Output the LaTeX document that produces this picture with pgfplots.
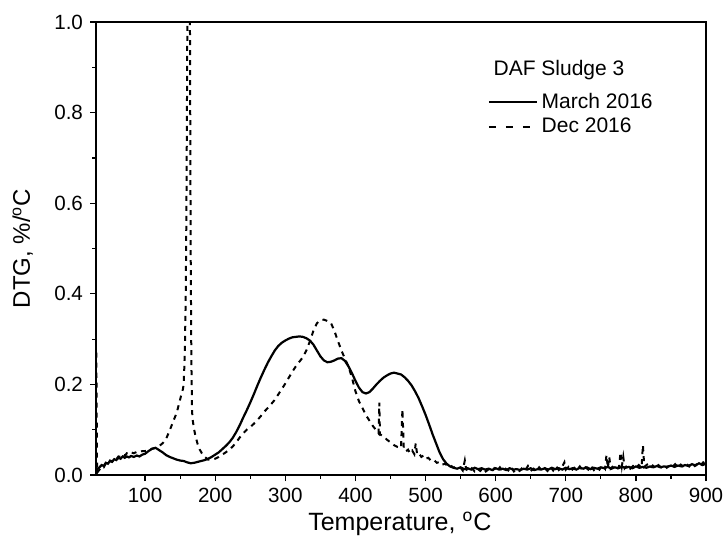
\documentclass[border=0pt]{standalone}
\usepackage{fontspec}
\setmainfont{Liberation Sans}
\usepackage{pgfplots}
\pgfplotsset{compat=1.18}

\begin{document}
\begin{tikzpicture}
\begin{axis}[
  scale only axis,
  width=305pt, height=226.5pt,
  xmin=30, xmax=900,
  ymin=0, ymax=1,
  xtick={100,200,...,900},
  ytick={0,0.2,...,1.0},
  minor x tick num=1,
  minor y tick num=1,
  tick align=outside,
  xtick pos=left, ytick pos=left,
  major tick length=3pt,
  minor tick length=2pt,
  tick style={black, line width=0.6pt},
  axis line style={line width=0.8pt},
  font=\fontsize{10.3}{12}\selectfont,
  /pgf/number format/assume math mode=true,
  y tick label style={/pgf/number format/.cd, fixed, fixed zerofill, precision=1},
  xlabel={Temperature, \textsuperscript{o}C},
  ylabel={DTG, \%/\textsuperscript{o}C},
  every axis x label/.style={at={(axis description cs:0.498,-0.108)}, anchor=center, font=\fontsize{12.5}{14}\selectfont},
  every axis y label/.style={at={(axis description cs:-0.12,0.5)}, anchor=center, rotate=90, font=\fontsize{12}{14}\selectfont},
  legend style={at={(axis description cs:0.632,0.862)}, anchor=north west, draw=none, fill=none,
    font=\fontsize{10.5}{12}\selectfont, row sep=-0.5pt},
  legend cell align=left,
  legend image code/.code={\draw[#1] (0pt,0pt) -- (24pt,0pt);},
  clip=true,
]
% March 2016
\addplot[black, line width=1.1pt, forget plot] coordinates {
(30,0.006) (32,0.013) (35,0.017) (38,0.022) (41,0.020) (44,0.027) (47,0.025) (50,0.031)
(53,0.029) (56,0.035) (59,0.033) (62,0.038) (65,0.036) (68,0.041) (71,0.038) (74,0.041)
(77,0.039) (80,0.042) (84,0.040) (88,0.043) (92,0.041) (96,0.045) (100,0.047) (105,0.053)
(110,0.058) (115,0.060) (120,0.055) (125,0.050) (130,0.044) (135,0.040) (140,0.037) (145,0.034)
(150,0.032) (155,0.031) (160,0.028) (165,0.026) (170,0.027) (175,0.029) (180,0.031) (185,0.033)
(190,0.036) (195,0.040) (200,0.045) (205,0.050) (210,0.057) (215,0.064) (220,0.072) (225,0.082)
(230,0.095) (235,0.110) (240,0.127) (245,0.143) (250,0.160) (255,0.178) (260,0.197) (265,0.215)
(270,0.232) (275,0.248) (280,0.262) (285,0.275) (290,0.285) (295,0.292) (300,0.297) (305,0.301)
(310,0.304) (315,0.305) (320,0.306) (325,0.305) (330,0.302) (335,0.297) (340,0.288) (345,0.275)
(350,0.262) (355,0.253) (360,0.249) (365,0.250) (370,0.253) (375,0.257) (380,0.258) (385,0.252)
(390,0.240) (395,0.225) (400,0.208) (405,0.193) (410,0.183) (415,0.180) (420,0.183) (425,0.191)
(430,0.200) (435,0.208) (440,0.215) (445,0.220) (450,0.224) (455,0.226) (460,0.224) (465,0.222)
(470,0.216) (475,0.208) (480,0.198) (485,0.185) (490,0.170) (495,0.152) (500,0.133) (505,0.112)
(510,0.090) (515,0.070) (520,0.050) (525,0.035) (530,0.025) (535,0.019)
(540,0.016) (545,0.014) (550,0.017) (555,0.013) (560,0.015) (565,0.012) (570,0.016) (575,0.013)
(580,0.015) (585,0.012) (590,0.014) (595,0.011) (600,0.015) (605,0.012) (610,0.014) (615,0.011)
(620,0.015) (625,0.012) (630,0.013) (635,0.011) (640,0.014) (645,0.012) (650,0.015) (655,0.011)
(660,0.013) (665,0.012) (670,0.015) (675,0.012) (680,0.016) (685,0.013) (690,0.015) (695,0.012)
(700,0.016) (705,0.013) (710,0.015) (715,0.012) (720,0.016) (725,0.014) (730,0.017) (735,0.013)
(740,0.016) (745,0.014) (750,0.017) (755,0.015) (760,0.018) (765,0.014) (770,0.017) (775,0.015)
(780,0.018) (785,0.016) (790,0.018) (795,0.015) (800,0.019) (805,0.016) (810,0.018) (815,0.016)
(820,0.019) (825,0.017) (830,0.020) (835,0.017) (840,0.019) (845,0.018) (850,0.021) (855,0.018)
(860,0.021) (865,0.019) (870,0.022) (875,0.020) (880,0.024) (885,0.021) (890,0.026) (895,0.022)
(900,0.025)
};
% Dec 2016
\addplot[black, line width=1pt, dash pattern=on 2.5pt off 2.5pt, forget plot] coordinates {
(30.5,0.27) (31.5,0.005) (35,0.012) (38,0.019) (41,0.017) (44,0.026) (47,0.024) (50,0.032)
(53,0.030) (56,0.037) (59,0.035) (62,0.041) (65,0.040) (68,0.046) (71,0.043) (74,0.048)
(77,0.046) (80,0.050) (84,0.048) (88,0.051) (92,0.050) (96,0.053) (100,0.053) (105,0.055)
(110,0.058) (115,0.060) (120,0.064) (125,0.070) (130,0.080) (135,0.098) (140,0.118) (145,0.137)
(148,0.155) (151,0.173) (154,0.190) (155,0.200) (156,0.240) (157,0.300) (158,0.400) (159,0.600)
(160,0.900) (161,1.300) (162,1.500) (163,1.400) (164,1.000) (165,0.500) (166,0.250) (167,0.140)
(168,0.120) (170,0.100) (172,0.085) (175,0.068) (178,0.056) (181,0.048) (185,0.040) (190,0.034)
(195,0.034) (200,0.036) (205,0.040) (210,0.045) (215,0.050) (220,0.056) (225,0.063) (230,0.072)
(235,0.083) (240,0.092) (245,0.100) (250,0.106) (255,0.113) (260,0.121) (265,0.130) (270,0.140)
(275,0.148) (280,0.157) (285,0.166) (290,0.178) (295,0.190) (300,0.202) (305,0.215) (310,0.228)
(315,0.240) (320,0.250) (325,0.260) (330,0.275) (335,0.295) (340,0.318) (345,0.335) (350,0.342)
(355,0.343) (360,0.340) (365,0.336) (370,0.318) (375,0.296) (380,0.275) (385,0.257) (390,0.240)
(395,0.215) (400,0.185) (405,0.163) (410,0.148) (415,0.132) (420,0.120) (425,0.108) (430,0.098)
(433,0.092) (434,0.160) (435,0.090) (440,0.085) (445,0.078) (450,0.072) (455,0.066) (460,0.062)
(465,0.060) (467,0.145) (469,0.058) (472,0.052) (475,0.056) (478,0.048) (481,0.054) (484,0.046)
(486,0.070) (488,0.045) (491,0.047) (494,0.040) (497,0.043) (500,0.036) (504,0.038) (508,0.031)
(512,0.033) (516,0.027) (520,0.029) (524,0.023) (528,0.025) (532,0.019) (536,0.021) (540,0.016)
(545,0.019) (550,0.016) (553,0.010) (556,0.032) (558,0.012) (562,0.009) (566,0.015) (570,0.008)
(574,0.014) (578,0.009) (582,0.016) (586,0.008) (590,0.013) (594,0.007) (598,0.015) (602,0.009)
(606,0.017) (610,0.008) (614,0.014) (618,0.010) (622,0.018) (626,0.008) (630,0.013) (634,0.009)
(638,0.016) (642,0.010) (646,0.020) (650,0.009) (654,0.014) (658,0.008) (662,0.017) (666,0.010)
(670,0.015) (674,0.009) (678,0.018) (682,0.010) (686,0.020) (690,0.011) (694,0.016) (698,0.028)
(700,0.012) (704,0.018) (708,0.010) (712,0.016) (716,0.011) (720,0.019) (724,0.010) (728,0.017)
(732,0.012) (736,0.020) (740,0.011) (744,0.018) (748,0.012) (752,0.022) (756,0.014) (758,0.044)
(760,0.016) (762,0.040) (764,0.014) (768,0.020) (772,0.013) (776,0.018) (778,0.050) (780,0.020)
(782,0.040) (784,0.015) (788,0.022) (792,0.014) (796,0.020) (800,0.015) (804,0.022) (808,0.016)
(810,0.066) (812,0.018) (816,0.023) (820,0.015) (824,0.021) (828,0.016) (832,0.022) (836,0.017)
(840,0.023) (844,0.016) (848,0.022) (852,0.018) (856,0.024) (860,0.017) (864,0.023) (868,0.018)
(872,0.025) (876,0.019) (880,0.027) (884,0.020) (888,0.026) (892,0.021) (896,0.028) (900,0.024)
};
\addlegendimage{black, line width=0.8pt}
\addlegendentry{March 2016}
\addlegendimage{black, line width=0.9pt, dash pattern=on 3.5pt off 5pt}
\addlegendentry{Dec 2016}
\node[font=\fontsize{10.5}{12}\selectfont] at (axis description cs:0.759,0.893) {DAF Sludge 3};
\coordinate (bb1) at (axis description cs:-0.1574,-0.1567);
\coordinate (bb2) at (axis description cs:1.0295,1.0486);
\end{axis}
\pgfresetboundingbox
\useasboundingbox (bb1) rectangle (bb2);
\end{tikzpicture}
\end{document}
